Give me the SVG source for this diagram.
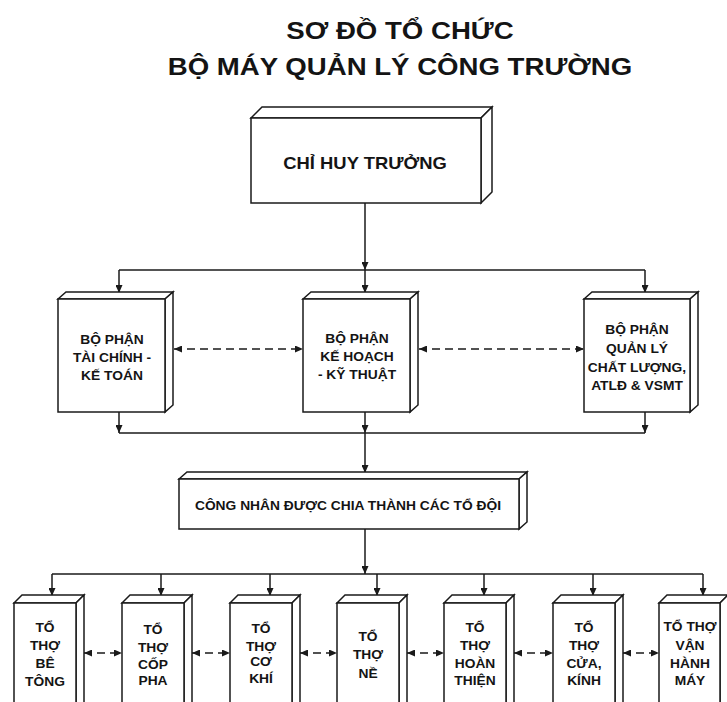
<svg xmlns="http://www.w3.org/2000/svg" width="727" height="702" viewBox="0 0 727 702">
<style>
.bx{fill:#fff;stroke:#1a1a1a;stroke-width:1.5;stroke-linejoin:miter}
.ln{fill:none;stroke:#1a1a1a;stroke-width:1.5}
.ds{fill:none;stroke:#1a1a1a;stroke-width:1.5;stroke-dasharray:8 5}
text{font-family:"Liberation Sans",Arial,sans-serif;font-weight:bold;fill:#141414;text-anchor:middle}
.t1{font-size:24px}
.t2{font-size:16px}
.t3{font-size:12px}
</style>
<defs>
<marker id="ah" viewBox="0 0 8 7" refX="8" refY="3.5" markerWidth="8" markerHeight="7" markerUnits="userSpaceOnUse" orient="auto-start-reverse">
<path d="M0,0 L8,3.5 L0,7 z" fill="#1a1a1a"/>
</marker>
</defs>
<rect width="727" height="702" fill="#fff"/>

<g id="title">
<g transform="translate(400 0) scale(1.15 1)"><text class="t1" x="0" y="39">SƠ ĐỒ TỔ CHỨC</text></g>
<g transform="translate(400 0) scale(1.15 1)"><text class="t1" x="0" y="75">BỘ MÁY QUẢN LÝ CÔNG TRƯỜNG</text></g>
</g>

<g id="connectors">
<line class="ln" x1="365" y1="203" x2="365" y2="270" marker-end="url(#ah)"/>
<line class="ln" x1="119" y1="270" x2="645" y2="270"/>
<line class="ln" x1="119" y1="270" x2="119" y2="293" marker-end="url(#ah)"/>
<line class="ln" x1="365" y1="270" x2="365" y2="293" marker-end="url(#ah)"/>
<line class="ln" x1="645" y1="270" x2="645" y2="293" marker-end="url(#ah)"/>
<line class="ds" x1="174" y1="349" x2="303" y2="349" marker-start="url(#ah)" marker-end="url(#ah)"/>
<line class="ds" x1="419" y1="349" x2="584" y2="349" marker-start="url(#ah)" marker-end="url(#ah)"/>
<line class="ln" x1="119" y1="412" x2="119" y2="433" marker-end="url(#ah)"/>
<line class="ln" x1="365" y1="412" x2="365" y2="433" marker-end="url(#ah)"/>
<line class="ln" x1="645" y1="412" x2="645" y2="433" marker-end="url(#ah)"/>
<line class="ln" x1="119" y1="433" x2="645" y2="433"/>
<line class="ln" x1="365" y1="433" x2="365" y2="473" marker-end="url(#ah)"/>
<line class="ln" x1="365" y1="529" x2="365" y2="574" marker-end="url(#ah)"/>
<line class="ln" x1="52" y1="574" x2="703" y2="574"/>
<line class="ln" x1="52" y1="574" x2="52" y2="596" marker-end="url(#ah)"/>
<line class="ln" x1="161" y1="574" x2="161" y2="596" marker-end="url(#ah)"/>
<line class="ln" x1="270" y1="574" x2="270" y2="596" marker-end="url(#ah)"/>
<line class="ln" x1="377" y1="574" x2="377" y2="596" marker-end="url(#ah)"/>
<line class="ln" x1="484" y1="574" x2="484" y2="596" marker-end="url(#ah)"/>
<line class="ln" x1="593" y1="574" x2="593" y2="596" marker-end="url(#ah)"/>
<line class="ln" x1="703" y1="574" x2="703" y2="596" marker-end="url(#ah)"/>
<line class="ds" x1="84" y1="653" x2="122" y2="653" marker-start="url(#ah)" marker-end="url(#ah)"/>
<line class="ds" x1="192" y1="653" x2="230" y2="653" marker-start="url(#ah)" marker-end="url(#ah)"/>
<line class="ds" x1="300" y1="653" x2="337" y2="653" marker-start="url(#ah)" marker-end="url(#ah)"/>
<line class="ds" x1="407" y1="653" x2="444" y2="653" marker-start="url(#ah)" marker-end="url(#ah)"/>
<line class="ds" x1="514" y1="653" x2="553" y2="653" marker-start="url(#ah)" marker-end="url(#ah)"/>
<line class="ds" x1="623" y1="653" x2="659" y2="653" marker-start="url(#ah)" marker-end="url(#ah)"/>
</g>

<g id="chi-huy-truong">
<polygon class="bx" points="251,118 262,107 492,107 481,118"/>
<polygon class="bx" points="481,118 492,107 492,192 481,203"/>
<rect class="bx" x="251" y="118" width="230" height="85"/>
<g transform="translate(365 0) scale(1.15 1)"><text class="t2" x="0" y="169">CHỈ HUY TRƯỞNG</text></g>
</g>

<g id="bp-tai-chinh">
<polygon class="bx" points="58,299 66,292 173,292 165,299"/>
<polygon class="bx" points="165,299 173,292 173,405 165,412"/>
<rect class="bx" x="58" y="299" width="107" height="113"/>
<g transform="translate(112 0) scale(1.15 1)">
<text class="t3" x="0" y="344">BỘ PHẬN</text>
<text class="t3" x="0" y="362">TÀI CHÍNH -</text>
<text class="t3" x="0" y="380">KẾ TOÁN</text>
</g>
</g>

<g id="bp-ke-hoach">
<polygon class="bx" points="303,299 311,292 418,292 410,299"/>
<polygon class="bx" points="410,299 418,292 418,405 410,412"/>
<rect class="bx" x="303" y="299" width="107" height="113"/>
<g transform="translate(357 0) scale(1.15 1)">
<text class="t3" x="0" y="343">BỘ PHẬN</text>
<text class="t3" x="0" y="361">KẾ HOẠCH</text>
<text class="t3" x="0" y="379">- KỸ THUẬT</text>
</g>
</g>

<g id="bp-quan-ly">
<polygon class="bx" points="584,299 592,292 698,292 690,299"/>
<polygon class="bx" points="690,299 698,292 698,405 690,412"/>
<rect class="bx" x="584" y="299" width="106" height="113"/>
<g transform="translate(637 0) scale(1.15 1)">
<text class="t3" x="0" y="334">BỘ PHẬN</text>
<text class="t3" x="0" y="353">QUẢN LÝ</text>
<text class="t3" x="0" y="372">CHẤT LƯỢNG,</text>
<text class="t3" x="0" y="390">ATLĐ &amp; VSMT</text>
</g>
</g>

<g id="cong-nhan">
<polygon class="bx" points="179,479 187,472 527,472 519,479"/>
<polygon class="bx" points="519,479 527,472 527,522 519,529"/>
<rect class="bx" x="179" y="479" width="340" height="50"/>
<g transform="translate(348 0) scale(1.15 1)"><text class="t3" x="0" y="510">CÔNG NHÂN ĐƯỢC CHIA THÀNH CÁC TỔ ĐỘI</text></g>
</g>

<g id="to-be-tong">
<polygon class="bx" points="14,603 22,595 84,595 76,603"/>
<polygon class="bx" points="76,603 84,595 84,715 76,723"/>
<rect class="bx" x="14" y="603" width="62" height="120"/>
<g transform="translate(45 0) scale(1.15 1)">
<text class="t3" x="0" y="632">TỔ</text><text class="t3" x="0" y="650">THỢ</text><text class="t3" x="0" y="668">BÊ</text><text class="t3" x="0" y="686">TÔNG</text>
</g>
</g>

<g id="to-cop-pha">
<polygon class="bx" points="122,603 130,595 192,595 184,603"/>
<polygon class="bx" points="184,603 192,595 192,715 184,723"/>
<rect class="bx" x="122" y="603" width="62" height="120"/>
<g transform="translate(153 0) scale(1.15 1)">
<text class="t3" x="0" y="634">TỔ</text><text class="t3" x="0" y="652">THỢ</text><text class="t3" x="0" y="669">CỐP</text><text class="t3" x="0" y="685">PHA</text>
</g>
</g>

<g id="to-co-khi">
<polygon class="bx" points="230,603 238,595 300,595 292,603"/>
<polygon class="bx" points="292,603 300,595 300,715 292,723"/>
<rect class="bx" x="230" y="603" width="62" height="120"/>
<g transform="translate(261 0) scale(1.15 1)">
<text class="t3" x="0" y="633">TỔ</text><text class="t3" x="0" y="651">THỢ</text><text class="t3" x="0" y="666">CƠ</text><text class="t3" x="0" y="683">KHÍ</text>
</g>
</g>

<g id="to-ne">
<polygon class="bx" points="337,603 345,595 407,595 399,603"/>
<polygon class="bx" points="399,603 407,595 407,715 399,723"/>
<rect class="bx" x="337" y="603" width="62" height="120"/>
<g transform="translate(368 0) scale(1.15 1)">
<text class="t3" x="0" y="641">TỔ</text><text class="t3" x="0" y="659">THỢ</text><text class="t3" x="0" y="678">NỀ</text>
</g>
</g>

<g id="to-hoan-thien">
<polygon class="bx" points="444,603 452,595 514,595 506,603"/>
<polygon class="bx" points="506,603 514,595 514,715 506,723"/>
<rect class="bx" x="444" y="603" width="62" height="120"/>
<g transform="translate(475 0) scale(1.15 1)">
<text class="t3" x="0" y="632">TỔ</text><text class="t3" x="0" y="650">THỢ</text><text class="t3" x="0" y="668">HOÀN</text><text class="t3" x="0" y="685">THIỆN</text>
</g>
</g>

<g id="to-cua-kinh">
<polygon class="bx" points="553,603 561,595 623,595 615,603"/>
<polygon class="bx" points="615,603 623,595 623,715 615,723"/>
<rect class="bx" x="553" y="603" width="62" height="120"/>
<g transform="translate(584 0) scale(1.15 1)">
<text class="t3" x="0" y="632">TỔ</text><text class="t3" x="0" y="650">THỢ</text><text class="t3" x="0" y="668">CỬA,</text><text class="t3" x="0" y="685">KÍNH</text>
</g>
</g>

<g id="to-van-hanh-may">
<polygon class="bx" points="659,603 667,595 728,595 720,603"/>
<polygon class="bx" points="720,603 728,595 728,715 720,723"/>
<rect class="bx" x="659" y="603" width="61" height="120"/>
<g transform="translate(690 0) scale(1.15 1)">
<text class="t3" x="0" y="631">TỔ THỢ</text><text class="t3" x="0" y="650">VẬN</text><text class="t3" x="0" y="668">HÀNH</text><text class="t3" x="0" y="685">MÁY</text>
</g>
</g>
</svg>
